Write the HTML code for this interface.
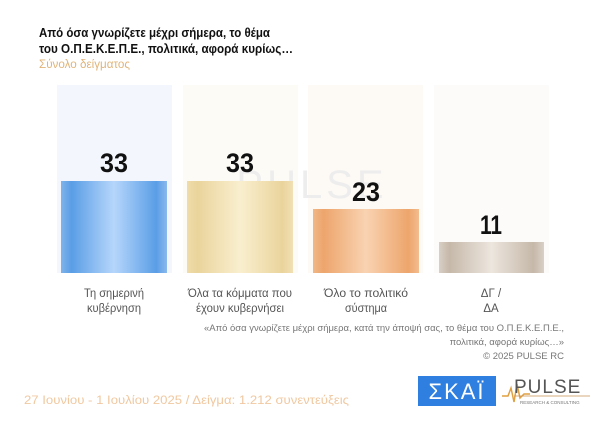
<!DOCTYPE html>
<html><head><meta charset="utf-8"><style>
html,body{margin:0;padding:0;background:#fff;width:600px;height:433px;overflow:hidden}
svg text{font-family:"Liberation Sans",sans-serif}
</style></head><body>
<svg width="600" height="433" viewBox="0 0 600 433" xmlns="http://www.w3.org/2000/svg">
<defs>
<linearGradient id="gb" x1="0" x2="1"><stop offset="0" stop-color="#7fb4ea"/><stop offset=".1" stop-color="#5a9ee6"/><stop offset=".5" stop-color="#b6d6fb"/><stop offset=".9" stop-color="#5a9ee6"/><stop offset="1" stop-color="#8ab9ec"/></linearGradient>
<linearGradient id="gy" x1="0" x2="1"><stop offset="0" stop-color="#efdcaa"/><stop offset=".1" stop-color="#ead49c"/><stop offset=".5" stop-color="#f9efcf"/><stop offset=".9" stop-color="#ead49c"/><stop offset="1" stop-color="#f1e0b4"/></linearGradient>
<linearGradient id="go" x1="0" x2="1"><stop offset="0" stop-color="#f0b887"/><stop offset=".1" stop-color="#eda56c"/><stop offset=".5" stop-color="#f9d3b2"/><stop offset=".9" stop-color="#eda56c"/><stop offset="1" stop-color="#f2bd8e"/></linearGradient>
<linearGradient id="gg" x1="0" x2="1"><stop offset="0" stop-color="#d8cfc5"/><stop offset=".1" stop-color="#c6b8a9"/><stop offset=".5" stop-color="#ece6de"/><stop offset=".9" stop-color="#c6b8a9"/><stop offset="1" stop-color="#d9d0c6"/></linearGradient>
</defs>
<rect x="57" y="85" width="115" height="188" fill="#f3f7fd"/>
<rect x="183" y="85" width="115" height="188" fill="#fdfbf6"/>
<rect x="308" y="85" width="115" height="188" fill="#fdf9f5"/>
<rect x="434" y="85" width="115" height="188" fill="#fcfbfa"/>
<text x="39" y="37" font-size="13" font-weight="bold" fill="#111" textLength="231" lengthAdjust="spacingAndGlyphs">Από όσα γνωρίζετε μέχρι σήμερα, το θέμα</text>
<text x="39" y="53" font-size="13" font-weight="bold" fill="#111" textLength="254" lengthAdjust="spacingAndGlyphs">του  Ο.Π.Ε.Κ.Ε.Π.Ε.,  πολιτικά, αφορά κυρίως…</text>
<text x="39" y="68" font-size="12" fill="#e0b47a" textLength="91" lengthAdjust="spacingAndGlyphs">Σύνολο δείγματος</text>
<text x="312" y="198" font-size="40" fill="#ededed" text-anchor="middle" letter-spacing="4">PULSE</text>
<rect x="61" y="181" width="106" height="92" fill="url(#gb)"/>
<rect x="187" y="181" width="106" height="92" fill="url(#gy)"/>
<rect x="313" y="209" width="106" height="64" fill="url(#go)"/>
<rect x="439" y="242" width="105" height="31" fill="url(#gg)"/>
<g font-size="27" font-weight="bold" fill="#111" text-anchor="middle">
<text x="114" y="172" textLength="28" lengthAdjust="spacingAndGlyphs">33</text>
<text x="240" y="172" textLength="28" lengthAdjust="spacingAndGlyphs">33</text>
<text x="366" y="201" textLength="28" lengthAdjust="spacingAndGlyphs">23</text>
<text x="491" y="234" textLength="22" lengthAdjust="spacingAndGlyphs">11</text>
</g>
<g font-size="11.5" fill="#555" text-anchor="middle">
<text x="114" y="297" textLength="60" lengthAdjust="spacingAndGlyphs">Τη σημερινή</text><text x="114" y="312" textLength="54" lengthAdjust="spacingAndGlyphs">κυβέρνηση</text>
<text x="240" y="297" textLength="104" lengthAdjust="spacingAndGlyphs">Όλα τα κόμματα που</text><text x="240" y="312" textLength="88" lengthAdjust="spacingAndGlyphs">έχουν κυβερνήσει</text>
<text x="366" y="297" textLength="84" lengthAdjust="spacingAndGlyphs">Όλο το πολιτικό</text><text x="366" y="312" textLength="42" lengthAdjust="spacingAndGlyphs">σύστημα</text>
<text x="491" y="297">ΔΓ /</text><text x="491" y="312">ΔΑ</text>
</g>
<g font-size="9.5" fill="#777" text-anchor="end">
<text x="564" y="331" textLength="360" lengthAdjust="spacingAndGlyphs">«Από όσα γνωρίζετε μέχρι σήμερα, κατά την άποψή σας, το θέμα του Ο.Π.Ε.Κ.Ε.Π.Ε.,</text>
<text x="564" y="345">πολιτικά, αφορά κυρίως…»</text>
<text x="564" y="359">©  2025  PULSE RC</text>
</g>
<text x="24" y="404" font-size="11.5" fill="#f0c8a0" textLength="325" lengthAdjust="spacingAndGlyphs">27 Ιουνίου - 1 Ιουλίου 2025  /  Δείγμα:  1.212 συνεντεύξεις</text>
<rect x="418" y="376" width="78" height="30" fill="#2f7fe0"/>
<text x="457" y="399" font-size="22" fill="#fff" text-anchor="middle" letter-spacing="2">ΣΚΑΪ</text>
<polyline points="502,396 508,396 511,388 514,402 517,384 520,398 524,394 530,394" fill="none" stroke="#e0a040" stroke-width="1.5"/>
<text x="514" y="393" font-size="19" fill="#555" letter-spacing="1">PULSE</text>
<line x1="514" y1="396" x2="590" y2="396" stroke="#c89050" stroke-width="0.7"/>
<text x="520" y="404" font-size="4.5" fill="#777">RESEARCH &amp; CONSULTING</text>
</svg>
</body></html>
